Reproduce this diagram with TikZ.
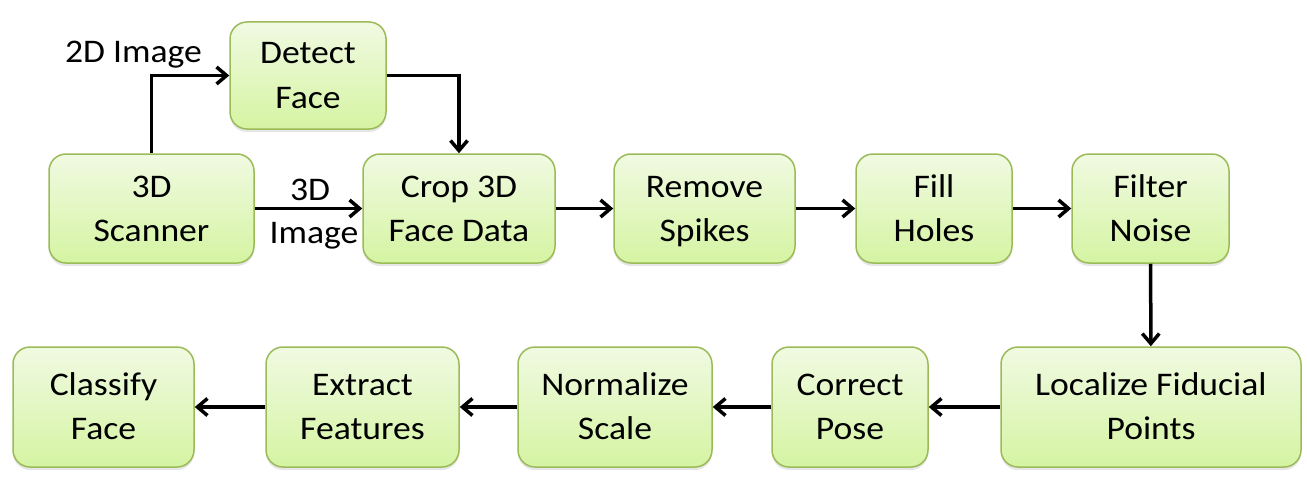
\documentclass[tikz,border=0pt]{standalone}
\usepackage{fontspec}
\setmainfont{Carlito}[FakeStretch=1.08]
\usetikzlibrary{arrows.meta,shadows}
\definecolor{boxtop}{HTML}{F0FAE2}
\definecolor{boxbot}{HTML}{D5F4A2}
\definecolor{boxline}{HTML}{9BBB59}
\tikzset{blk/.style={draw=boxline, line width=1.5pt, rounded corners=17pt, top color=boxtop, bottom color=boxbot, align=center, inner sep=0pt, text height=73pt, text depth=8pt,
                     drop shadow={shadow xshift=0pt, shadow yshift=-3pt, opacity=0.2}},
         arr/.style={line width=3.5pt, -{Straight Barb[length=10pt,width=17pt]}}}

\begin{document}
\begin{tikzpicture}[x=1pt, y=-1pt, font=\fontsize{33}{44}\selectfont]
        \useasboundingbox (0,0) rectangle (1307,503);
        \node[blk, minimum width=205pt, minimum height=109pt] (scanner) at (151.5,208.5) {3D\\Scanner};
        \node[blk, minimum width=156pt, minimum height=107pt] (detect) at (308,75.5) {Detect\\Face};
        \node[blk, minimum width=192pt, minimum height=109pt] (crop) at (459,208.5) {Crop 3D\\Face Data};
        \node[blk, minimum width=181pt, minimum height=109pt] (spikes) at (704.5,208.5) {Remove\\Spikes};
        \node[blk, minimum width=156pt, minimum height=109pt] (holes) at (934,208.5) {Fill\\Holes};
        \node[blk, minimum width=157pt, minimum height=109pt] (noise) at (1150.5,208.5) {Filter\\Noise};

        \node[blk, minimum width=300pt, minimum height=120pt] (fiducial) at (1151,407) {Localize Fiducial\\Points};
        \node[blk, minimum width=156pt, minimum height=120pt] (pose) at (850,407) {Correct\\Pose};
        \node[blk, minimum width=194pt, minimum height=120pt] (scale) at (615,407) {Normalize\\Scale};
        \node[blk, minimum width=193pt, minimum height=120pt] (features) at (362.5,407) {Extract\\Features};
        \node[blk, minimum width=181pt, minimum height=120pt] (classify) at (103.5,407) {Classify\\Face};

        \node[anchor=base] (lab2d) at (133.5,63) {2D Image};
        \node[anchor=base] (lab3d) at (310,200) {3D};
        \node[anchor=base] (labimg) at (314,243) {Image};

        \draw[arr] (scanner.north) |- (detect.west); \draw[arr] (detect.east) -| (crop.north); \draw[arr] (scanner) -- (crop);
        \draw[arr] (crop) -- (spikes); \draw[arr] (spikes) -- (holes); \draw[arr] (holes) -- (noise); \draw[arr] (noise) -- (fiducial);
        \draw[arr] (fiducial) -- (pose); \draw[arr] (pose) -- (scale); \draw[arr] (scale) -- (features); \draw[arr] (features) -- (classify);
    \end{tikzpicture}
\end{document}
